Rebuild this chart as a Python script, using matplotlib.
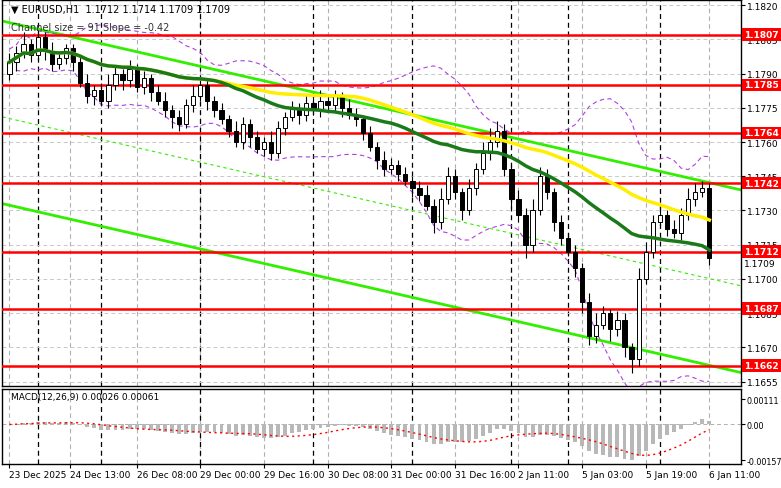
import numpy as np
import pandas as pd
import matplotlib.pyplot as plt

closes = [1.1795,1.1799,1.1803,1.1798,1.1806,1.1800,1.1794,1.1797,1.1801,1.1795,
          1.1786,1.1780,1.1783,1.1778,1.1785,1.1790,1.1787,1.1792,1.1784,1.1788,
          1.1782,1.1778,1.1774,1.1771,1.1768,1.1776,1.1780,1.1785,1.1778,1.1774,
          1.1770,1.1765,1.1760,1.1768,1.1762,1.1757,1.1760,1.1755,1.1766,1.1771,
          1.1775,1.1772,1.1777,1.1774,1.1778,1.1776,1.1780,1.1775,1.1772,1.1770,
          1.1764,1.1758,1.1752,1.1748,1.1750,1.1746,1.1743,1.1740,1.1737,1.1732,
          1.1725,1.1735,1.1745,1.1738,1.1730,1.1740,1.1748,1.1755,1.1760,1.1765,
          1.1748,1.1735,1.1728,1.1715,1.1730,1.1745,1.1738,1.1725,1.1718,1.1712,
          1.1705,1.1690,1.1675,1.1680,1.1685,1.1678,1.1682,1.1670,1.1665,1.1700,
          1.1712,1.1725,1.1728,1.1722,1.1720,1.1728,1.1735,1.1738,1.1740,1.1709]
first_open = 1.1790
wick_up = [4,3,5,2,3,2,4,3,2,2, 3,4,2,3,5,3,2,4,2,3, 2,3,4,2,3,3,5,2,3,2,
           3,2,4,3,2,3,2,5,3,2, 3,2,4,3,5,2,3,2,4,3, 2,3,2,4,3,2,3,2,3,4,
           3,5,4,3,2,4,3,5,6,4, 3,2,4,3,5,4,3,2,3,2, 3,2,4,5,3,2,4,3,2,5,
           4,3,5,2,4,3,5,4,3,2]
wick_dn = [3,4,2,3,2,4,3,2,3,4, 2,3,4,2,3,2,4,3,2,3, 4,2,3,5,3,2,3,2,4,3,
           2,3,2,3,4,2,3,3,2,3, 2,4,3,2,3,2,3,4,2,3, 3,2,4,3,2,3,2,4,3,2,
           5,3,2,3,4,2,3,2,3,2, 3,4,3,6,3,2,3,4,3,2, 4,5,4,3,2,5,3,4,6,3,
           2,3,2,3,2,3,2,3,2,3]

levels = [1.1807, 1.1785, 1.1764, 1.1742, 1.1712, 1.1687, 1.1662]
price_ticks = [1.1820, 1.1805, 1.1790, 1.1775, 1.1760, 1.1745, 1.1730,
               1.1715, 1.1700, 1.1685, 1.1670, 1.1655]
date_labels = ["23 Dec 2025", "24 Dec 13:00", "26 Dec 08:00", "29 Dec 00:00",
               "29 Dec 16:00", "30 Dec 08:00", "31 Dec 00:00", "31 Dec 16:00",
               "2 Jan 11:00", "5 Jan 03:00", "5 Jan 19:00", "6 Jan 11:00"]
date_pos = [0, 8.5, 18, 27, 36, 45, 54, 63, 72, 81, 90, 99]
day_seps = [4, 13, 27, 43, 57, 71, 79, 92]
upper_chan = [(-1, 1.1813), (103.5, 1.1739)]
mid_chan = [(-1, 1.1771), (103.5, 1.1697)]
lower_chan = [(-1, 1.1733), (103.5, 1.1659)]

c = pd.Series(closes)
o = pd.Series([first_open] + closes[:-1])
hi = np.maximum(o, c) + np.array(wick_up) * 1e-4
lo = np.minimum(o, c) - np.array(wick_dn) * 1e-4
x = np.arange(len(closes))

fig = plt.figure(figsize=(7.81, 4.89), dpi=100)
fig.patch.set_facecolor('white')
ax = fig.add_axes([0.003, 0.208, 0.946, 0.789])
ax2 = fig.add_axes([0.003, 0.049, 0.946, 0.153], sharex=ax)
xlim = (-1, 103.5)

for a in (ax, ax2):
    a.set_xlim(*xlim)
    for p in date_pos:
        a.axvline(p, color='#b0b0b0', ls=(0, (4, 3)), lw=0.8, zorder=0)
    for p in day_seps:
        a.axvline(p, color='black', ls=(0, (4, 3)), lw=0.9, zorder=0)
    a.yaxis.tick_right()
    a.tick_params(axis='y', labelsize=6.5, length=3, pad=1)
    for s in a.spines.values():
        s.set_linewidth(1)

ax.set_ylim(1.1653, 1.1822)
ax.set_yticks(price_ticks)
ax.set_yticklabels(['%.4f' % v for v in price_ticks])
for v in price_ticks:
    ax.axhline(v, color='#c8c8c8', ls=(0, (4, 3)), lw=0.7, zorder=0)

# channel
for ln, st in [(upper_chan, '-'), (lower_chan, '-'), (mid_chan, (0, (3, 3)))]:
    ax.plot([ln[0][0], ln[1][0]], [ln[0][1], ln[1][1]], color='#33ee00', ls=st,
            lw=2 if st == '-' else 0.8, zorder=2)

# envelopes
ma20 = c.rolling(20, min_periods=1).mean()
sd20 = c.rolling(20, min_periods=2).std().bfill()
ax.plot(x, ma20 + 2 * sd20, color='#b040e0', ls=(0, (4, 3)), lw=0.8, zorder=2)
ax.plot(x, ma20 - 2 * sd20, color='#b040e0', ls=(0, (4, 3)), lw=0.8, zorder=2)

for lv in levels:
    ax.axhline(lv, color='#ff0000', lw=1.8, zorder=3)

# candles
for i in x:
    ax.vlines(i, lo[i], hi[i], color='black', lw=0.8, zorder=4)
    b, t = sorted([o[i], c[i]])
    ax.bar(i, max(t - b, 0.00004), bottom=b, width=0.6,
           color='white' if c[i] >= o[i] else 'black', edgecolor='black',
           lw=0.7, zorder=5)

ax.plot(x, c.rolling(50, min_periods=1).mean(), color='#ffee00', lw=2.5, zorder=6)
ax.plot(x, c.rolling(30, min_periods=1).mean(), color='#1a7a1a', lw=2.5, zorder=6)

for lv in levels:
    ax.text(1.004, lv, '%.4f' % lv, transform=ax.get_yaxis_transform(),
            fontsize=6.5, fontweight='bold', color='white', va='center', ha='left',
            bbox=dict(boxstyle='square,pad=0.2', fc='#ff0000', ec='none'), zorder=10)
ax.text(1.004, closes[-1] - 0.00004, '%.4f' % closes[-1], transform=ax.get_yaxis_transform(),
        fontsize=6.5, color='black', va='top', ha='left',
        bbox=dict(boxstyle='square,pad=0.1', fc='white', ec='none'), zorder=10)
ax.text(0.012, 0.992, '▼ EURUSD,H1  1.1712 1.1714 1.1709 1.1709', transform=ax.transAxes,
        fontsize=7, va='top')
ax.text(0.012, 0.945, 'Channel size = 91 Slope = -0.42', transform=ax.transAxes,
        fontsize=7, va='top', color='#333333')
ax.tick_params(axis='x', bottom=False, labelbottom=False)

# MACD
ema12 = c.ewm(span=12, adjust=False).mean()
ema26 = c.ewm(span=26, adjust=False).mean()
macd = ema12 - ema26
signal = macd.rolling(9, min_periods=1).mean()
ax2.bar(x, macd, width=0.55, color='#b8b8b8', zorder=2)
ax2.plot(x, signal, color='#ff0000', ls=(0, (1.5, 2.5)), lw=1, zorder=3)
ax2.axhline(0, color='#b0b0b0', ls=(0, (4, 3)), lw=0.7, zorder=0)
bot = min(macd.min(), signal.min())
top_tick = -bot * 111 / 157
ax2.set_ylim(bot * 1.11, -bot * 0.99)
ax2.set_yticks([top_tick, 0.0, bot])
ax2.set_yticklabels(['0.00111', '0.00', '-0.00157'])
ax2.tick_params(axis='y', labelsize=5.8)
ax2.text(0.012, 0.96, 'MACD(12,26,9) 0.00026 0.00061', transform=ax2.transAxes,
         fontsize=6.5, va='top')
ax2.set_xticks(date_pos)
ax2.set_xticklabels(date_labels, ha='left', fontsize=6.5)
ax2.tick_params(axis='x', length=3, pad=1)

fig.savefig('out.png', dpi=100)
